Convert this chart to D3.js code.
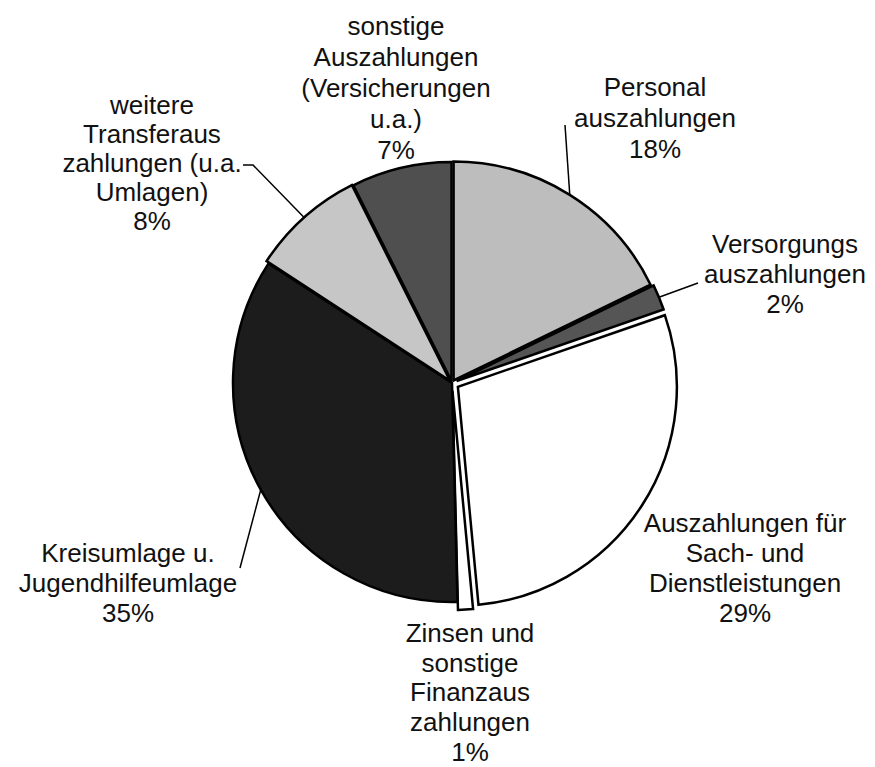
<!DOCTYPE html>
<html>
<head>
<meta charset="utf-8">
<script src="https://cdn.jsdelivr.net/npm/d3@7"></script>
<style>
  body { margin: 0; background: #fff; }
  text { font-family: "Liberation Sans", Arial, sans-serif; font-size: 26px; fill: #111; }
</style>
</head>
<body>
<div id="chart"></div>
<script>
// Auszahlungen in % (clockwise from 12 o'clock)
var categories = [
  "Personal auszahlungen",
  "Versorgungs auszahlungen",
  "Auszahlungen für Sach- und Dienstleistungen",
  "Zinsen und sonstige Finanzaus zahlungen",
  "Kreisumlage u. Jugendhilfeumlage",
  "weitere Transferaus zahlungen (u.a. Umlagen)",
  "sonstige Auszahlungen (Versicherungen u.a.)"
];
var values = [17.8, 1.9, 28.8, 1.1, 34.6, 8.4, 7.4];
var labelLines = [
  ["Personal", "auszahlungen"],
  ["Versorgungs", "auszahlungen"],
  ["Auszahlungen für", "Sach- und", "Dienstleistungen"],
  ["Zinsen und", "sonstige", "Finanzaus", "zahlungen"],
  ["Kreisumlage u.", "Jugendhilfeumlage"],
  ["weitere", "Transferaus", "zahlungen (u.a.", "Umlagen)"],
  ["sonstige", "Auszahlungen", "(Versicherungen", "u.a.)"]
];

var svgwidth = 875, svgheight = 767;
var cx = 452, cy = 383, radius = 219;

var fills = ["#bdbdbd", "#555555", "#ffffff", "#ffffff", "#1c1c1c", "#c6c6c6", "#4f4f4f"];
var explode = [3, 5, 7, 8, 0, 3, 2];
// label block: centre x, first baseline y, line height
var labelPos = [
  [655, 96, 31], [785, 253, 30], [745, 532, 30], [470, 642, 29.7],
  [128, 562, 30], [152, 114, 29], [396, 35, 31]
];

var svg = d3.select("#chart").append("svg")
  .attr("width", svgwidth)
  .attr("height", svgheight);

var pie = d3.pie().sort(null).startAngle(0).endAngle(2 * Math.PI);
var arc = d3.arc().innerRadius(0).outerRadius(radius);
var arcs = pie(values);

var chart = svg.append("g").attr("transform", `translate(${cx},${cy})`);

chart.selectAll("path")
  .data(arcs)
  .enter()
  .append("path")
  .attr("d", arc)
  .attr("fill", function(d, i) { return fills[i]; })
  .attr("stroke", "#000")
  .attr("stroke-width", 2.5)
  .attr("stroke-linejoin", "miter")
  .attr("transform", function(d, i) {
    var mid = (d.startAngle + d.endAngle) / 2;
    return `translate(${explode[i] * Math.sin(mid)},${-explode[i] * Math.cos(mid)})`;
  });

// leader lines: from slice edge to label
function edgePoint(i) {
  var d = arcs[i];
  var mid = (d.startAngle + d.endAngle) / 2;
  var r = radius + explode[i];
  return [cx + r * Math.sin(mid), cy - r * Math.cos(mid)];
}
var leaders = [
  [0, [[565, 125]]],
  [1, [[698, 283]]],
  [4, [[240, 568]]],
  [5, [[253, 165], [243, 165]]]
];
leaders.forEach(function(l) {
  var pts = [edgePoint(l[0])].concat(l[1]);
  svg.append("path")
    .attr("d", d3.line()(pts))
    .attr("fill", "none")
    .attr("stroke", "#000")
    .attr("stroke-width", 1.5);
});

// labels
labelLines.forEach(function(lines, i) {
  var all = lines.concat([Math.round(values[i]) + "%"]);
  var p = labelPos[i];
  var t = svg.append("text")
    .attr("text-anchor", "middle")
    .attr("x", p[0])
    .attr("y", p[1]);
  all.forEach(function(s, k) {
    t.append("tspan")
      .attr("x", p[0])
      .attr("dy", k === 0 ? 0 : p[2])
      .text(s);
  });
});
</script>
</body>
</html>
